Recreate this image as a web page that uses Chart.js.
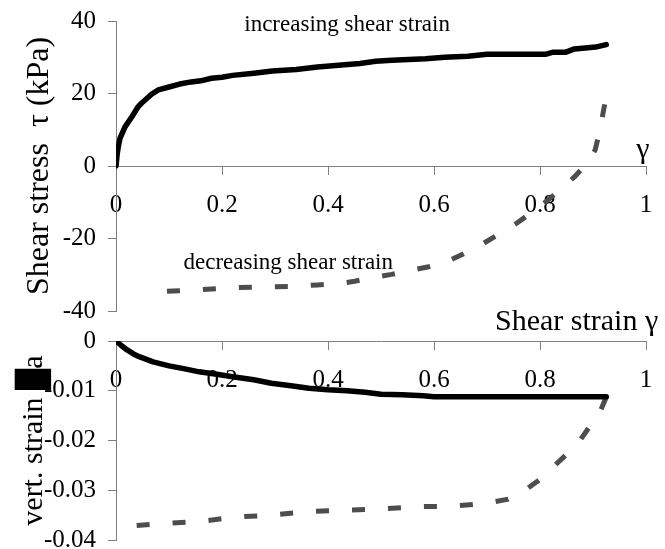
<!DOCTYPE html>
<html><head><meta charset="utf-8">
<script src="https://cdn.jsdelivr.net/npm/chart.js@4"></script>
<style>
html,body{margin:0;padding:0;background:#fff;}
#wrap{position:relative;width:665px;height:549px;overflow:hidden;background:#fff;}
#c1{position:absolute;left:0;top:0;}
#c2{position:absolute;left:0;top:300px;}
</style></head><body>
<div id="wrap"><canvas id="c1" width="665" height="330"></canvas><canvas id="c2" width="665" height="260"></canvas></div>
<script>
// ---- data: top panel (shear stress vs shear strain) ----
const strainInc = [0, 0.002, 0.0044, 0.0075, 0.017, 0.03, 0.042, 0.048, 0.055, 0.067, 0.08, 0.10, 0.12, 0.142, 0.16, 0.18, 0.20, 0.22, 0.26, 0.295, 0.34, 0.38, 0.42, 0.46, 0.49, 0.52, 0.584, 0.62, 0.664, 0.70, 0.76, 0.81, 0.825, 0.849, 0.865, 0.88, 0.905, 0.925];
const tauInc    = [0, 3, 5.4, 7.6, 10.8, 13.6, 16.4, 17.3, 18.2, 19.8, 21.0, 21.8, 22.6, 23.2, 23.5, 24.2, 24.5, 25.0, 25.6, 26.2, 26.6, 27.3, 27.8, 28.3, 28.9, 29.2, 29.6, 30.0, 30.3, 30.8, 30.8, 30.8, 31.4, 31.4, 32.3, 32.5, 32.8, 33.5];
const strainDec = [0.922, 0.917, 0.91, 0.904, 0.89, 0.865, 0.84, 0.815, 0.785, 0.756, 0.72, 0.688, 0.655, 0.624, 0.59, 0.553, 0.52, 0.485, 0.45, 0.417, 0.38, 0.349, 0.281, 0.213, 0.149, 0.065];
const tauDec    = [17, 13, 8, 4.4, 1, -3, -6.3, -9.4, -12.7, -15.8, -19, -21.8, -24.3, -26.4, -27.8, -28.9, -29.9, -30.8, -31.8, -32.5, -32.8, -33.1, -33.4, -33.6, -34.2, -34.8];
// ---- data: bottom panel (vertical strain vs shear strain) ----
const strainInc2 = [0, 0.01, 0.021, 0.033, 0.045, 0.07, 0.10, 0.13, 0.157, 0.19, 0.22, 0.26, 0.293, 0.33, 0.364, 0.40, 0.436, 0.47, 0.50, 0.54, 0.58, 0.60, 0.70, 0.80, 0.925];
const vertInc    = [0, -0.0009, -0.0018, -0.0026, -0.0032, -0.0042, -0.0050, -0.0056, -0.0062, -0.0067, -0.0072, -0.0078, -0.0085, -0.0090, -0.0095, -0.0098, -0.0100, -0.0103, -0.0107, -0.0108, -0.0110, -0.0112, -0.0112, -0.0112, -0.0112];
const strainDec2 = [0.925, 0.912, 0.895, 0.876, 0.85, 0.825, 0.80, 0.772, 0.74, 0.70, 0.635, 0.567, 0.496, 0.428, 0.364, 0.293, 0.225, 0.157, 0.089, 0.027];
const vertDec    = [-0.0113, -0.0145, -0.0170, -0.0199, -0.0228, -0.0253, -0.0278, -0.0300, -0.0318, -0.0326, -0.0332, -0.0333, -0.0338, -0.0340, -0.0343, -0.0350, -0.0354, -0.0363, -0.0367, -0.0372];
// ---- tick / label texts ----
const stressTicks = [-40, -20, 0, 20, 40];
const vertTicks = [-0.04, -0.03, -0.02, -0.01, 0];
const strainTicks = [0, 0.2, 0.4, 0.6, 0.8, 1];
const labelsTop = ['increasing shear strain', 'decreasing shear strain', 'γ'];
const labelBottom = 'Shear strain γ';
const titleStress = 'Shear stress  τ (kPa)';
const titleVert = 'vert. strain \u2588a';

const FONT = 'Liberation Serif, Times New Roman, serif';
const AX = '#808080';
const toXY = (xs, ys) => xs.map((x, i) => ({x, y: ys[i]}));
const fmt = v => String(Math.round(v * 1000) / 1000);
const noPad = s => { s.paddingTop = 0; s.paddingBottom = 0; s.paddingLeft = 0; s.paddingRight = 0; };

const notesPlugin = {
  id: 'notes',
  afterDraw(chart, args, opts) {
    const ctx = chart.ctx, xs = chart.scales.x, ys = chart.scales.y;
    (opts.items || []).forEach(it => {
      ctx.save();
      ctx.font = it.size + 'px ' + FONT;
      ctx.fillStyle = '#000';
      ctx.textAlign = it.align || 'center';
      ctx.textBaseline = 'middle';
      ctx.fillText(it.text, xs.getPixelForValue(it.x), ys.getPixelForValue(it.y));
      ctx.restore();
    });
  }
};

function xScale(pad) {
  return {
    type: 'linear', position: {y: 0}, min: 0, max: 1,
    afterBuildTicks: s => { s.ticks = strainTicks.map(v => ({value: v})); },
    afterFit: noPad,
    ticks: {font: {family: FONT, size: 25}, color: '#000', padding: pad, maxRotation: 0, autoSkip: false, callback: fmt},
    grid: {drawOnChartArea: false, tickLength: 8, color: AX},
    border: {color: AX, width: 1}
  };
}
function yScale(min, max, ticks, title, tsize, tpad) {
  return {
    type: 'linear', min, max,
    afterBuildTicks: s => { s.ticks = ticks.map(v => ({value: v})); },
    afterFit: s => { s.width = 116; noPad(s); },
    ticks: {font: {family: FONT, size: 25}, color: '#000', padding: 12, callback: fmt},
    grid: {drawOnChartArea: false, tickLength: 8, color: AX},
    border: {color: AX, width: 1},
    title: {display: true, text: title, color: '#000', font: {family: FONT, size: tsize}, padding: {top: tpad, bottom: 0}}
  };
}
const common = {
  responsive: false, animation: false,
  elements: {point: {radius: 0}, line: {tension: 0}}
};
const solidStyle = {borderColor: '#000', borderWidth: 5.5, borderCapStyle: 'round', borderJoinStyle: 'round'};
const dashStyle = {borderColor: '#4d4d4d', borderWidth: 5, borderDash: [13, 23], borderCapStyle: 'butt', borderJoinStyle: 'miter'};

new Chart(document.getElementById('c1'), {
  type: 'line',
  data: {datasets: [
    Object.assign({data: toXY(strainInc, tauInc)}, solidStyle),
    Object.assign({data: toXY(strainDec, tauDec)}, dashStyle)
  ]},
  options: Object.assign({}, common, {
    layout: {padding: {left: 0, top: 21, right: 19, bottom: 19}},
    scales: {x: xScale(16), y: yScale(-40, 40, stressTicks, titleStress, 32, 20)},
    plugins: {legend: {display: false}, tooltip: {enabled: false},
      notes: {items: [
        {text: labelsTop[0], x: 0.436, y: 39.0, size: 23},
        {text: labelsTop[1], x: 0.325, y: -26.8, size: 23},
        {text: labelsTop[2], x: 0.994, y: 4.4, size: 30}
      ]}}
  }),
  plugins: [notesPlugin]
});

new Chart(document.getElementById('c2'), {
  type: 'line',
  data: {datasets: [
    Object.assign({data: toXY(strainInc2, vertInc)}, solidStyle),
    Object.assign({data: toXY(strainDec2, vertDec)}, dashStyle)
  ]},
  options: Object.assign({}, common, {
    layout: {padding: {left: 0, top: 41, right: 19, bottom: 20}},
    scales: {x: xScale(16), y: yScale(-0.04, 0, vertTicks, titleVert, 30, 16)},
    plugins: {legend: {display: false}, tooltip: {enabled: false},
      notes: {items: [
        {text: labelBottom, x: 1.023, y: 0.0038, size: 30, align: 'right'}
      ]}}
  }),
  plugins: [notesPlugin]
});
</script>
</body></html>
